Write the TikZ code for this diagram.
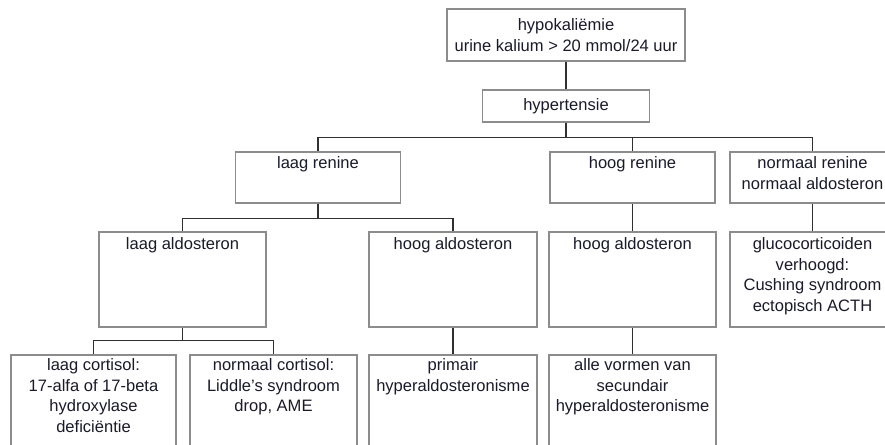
\documentclass[tikz,border=0pt]{standalone}
\usepackage{fontspec}
\setmainfont{Liberation Sans}
\definecolor{boxgray}{HTML}{8C8C8C}
\definecolor{linedark}{HTML}{303030}
\definecolor{txtcol}{HTML}{1A1A2A}
\begin{document}
\begin{tikzpicture}[x=0.75pt,y=-0.75pt,
  box/.style={draw=boxgray,line width=1pt,rectangle,inner sep=0pt,fill=white},
  txt/.style={font=\fontsize{12.4}{15.4}\selectfont,text=txtcol,align=center,inner sep=0pt,anchor=north},
  conn/.style={draw=linedark,line width=1.1pt}]
\useasboundingbox (0,0) rectangle (885,445);
\clip (0,0) rectangle (885,445);
% boxes (positions in px, y downward)
\node[box,minimum width=238*0.75pt,minimum height=52*0.75pt] (top) at (566,35) {};
\node[box,minimum width=167*0.75pt,minimum height=32*0.75pt] (hyp) at (566,106) {};
% row 2
\node[box,minimum width=165*0.75pt,minimum height=51*0.75pt] (lr) at (318,177.5) {};
\node[box,minimum width=165*0.75pt,minimum height=51*0.75pt] (hr) at (632.5,177.5) {};
\node[box,minimum width=165*0.75pt,minimum height=51*0.75pt] (nr) at (812.5,177.5) {};
% row 3
\node[box,minimum width=167*0.75pt,minimum height=95*0.75pt] (la) at (182.5,279.5) {};
\node[box,minimum width=168*0.75pt,minimum height=95*0.75pt] (ha1) at (453,279.5) {};
\node[box,minimum width=167*0.75pt,minimum height=95*0.75pt] (ha2) at (632.5,279.5) {};
\node[box,minimum width=165*0.75pt,minimum height=95*0.75pt] (gl) at (812.5,279.5) {};
% row 4 (cut off at bottom)
\node[box,minimum width=165*0.75pt,minimum height=120*0.75pt] (lc) at (93.5,415) {};
\node[box,minimum width=167*0.75pt,minimum height=120*0.75pt] (nc) at (273.5,415) {};
\node[box,minimum width=168*0.75pt,minimum height=120*0.75pt] (pr) at (453,415) {};
\node[box,minimum width=167*0.75pt,minimum height=120*0.75pt] (av) at (632.5,415) {};
% texts
\node[txt,anchor=center] (ttop) at (top.center) {hypokaliëmie\\urine kalium > 20 mmol/24 uur};
\node[txt,anchor=center] (thyp) at (hyp.center) {hypertensie};
\node[txt] (tlr) at ([yshift=-5*0.75pt]lr.north) {laag renine};
\node[txt] (thr) at ([yshift=-5*0.75pt]hr.north) {hoog renine};
\node[txt] (tnr) at ([yshift=-5*0.75pt]nr.north) {normaal renine\\normaal aldosteron};
\node[txt] (tla) at ([yshift=-6*0.75pt]la.north) {laag aldosteron};
\node[txt] (tha1) at ([yshift=-6*0.75pt]ha1.north) {hoog aldosteron};
\node[txt] (tha2) at ([yshift=-6*0.75pt]ha2.north) {hoog aldosteron};
\node[txt] (tgl) at ([yshift=-6*0.75pt]gl.north) {glucocorticoiden\\verhoogd:\\Cushing syndroom\\ectopisch ACTH};
\node[txt] (tlc) at ([yshift=-4*0.75pt]lc.north) {laag cortisol:\\17-alfa of 17-beta\\hydroxylase\\deficiëntie};
\node[txt] (tnc) at ([yshift=-4*0.75pt]nc.north) {normaal cortisol:\\Liddle's syndroom\\drop, AME};
\node[txt] (tpr) at ([yshift=-4*0.75pt]pr.north) {primair\\hyperaldosteronisme};
\node[txt] (tav) at ([yshift=-4*0.75pt]av.north) {alle vormen van\\secundair\\hyperaldosteronisme};
% connectors
\draw[conn] (top.south) -- (hyp.north);
\draw[conn] (hyp.south) -- ++(0,15) -| (lr.north);
\draw[conn] (hyp.south) -- ++(0,15) -| (hr.north);
\draw[conn] (hyp.south) -- ++(0,15) -| (nr.north);
\draw[conn] (lr.south) -- ++(0,15) -| (la.north);
\draw[conn] (lr.south) -- ++(0,15) -| (ha1.north);
\draw[conn] (hr.south) -- (ha2.north);
\draw[conn] (nr.south) -- (gl.north);
\draw[conn] (la.south) -- ++(0,13) -| (lc.north);
\draw[conn] (la.south) -- ++(0,13) -| (nc.north);
\draw[conn] (ha1.south) -- (pr.north);
\draw[conn] (ha2.south) -- (av.north);
\end{tikzpicture}
\end{document}
